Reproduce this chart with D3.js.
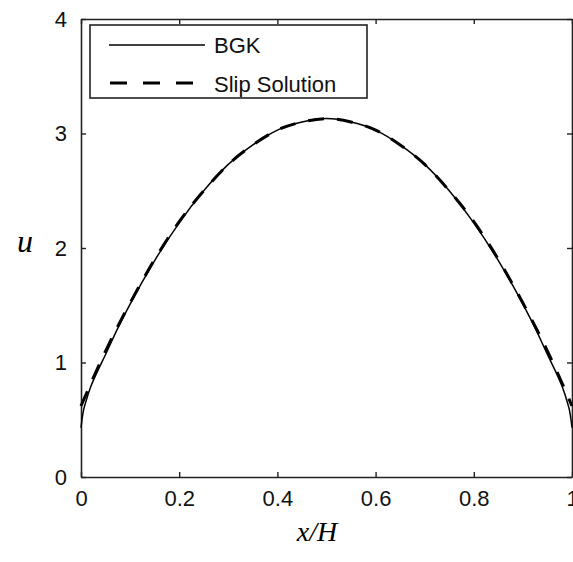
<!DOCTYPE html>
<html>
<head>
<meta charset="utf-8">
<script src="https://cdn.jsdelivr.net/npm/d3@7"></script>
<style>
  body { margin: 0; background: #fff; }
  svg { display: block; }
  .tick text { font-family: "Liberation Sans", Arial, sans-serif; font-size: 22px; fill: #111; }
</style>
</head>
<body>
<svg id="chart" width="573" height="562"></svg>
<script>
// data
var bgkX = [0, 0.002, 0.005, 0.01, 0.02, 0.03, 0.05, 0.075, 0.1, 0.15, 0.2, 0.25, 0.3, 0.35, 0.4, 0.45, 0.5,
            0.55, 0.6, 0.65, 0.7, 0.75, 0.8, 0.85, 0.9, 0.925, 0.95, 0.97, 0.98, 0.99, 0.995, 0.998, 1];
var bgkU = [0.43, 0.50, 0.58, 0.66, 0.79, 0.89, 1.07, 1.30, 1.51, 1.89, 2.22, 2.50, 2.73, 2.90, 3.03, 3.10, 3.13,
            3.10, 3.03, 2.90, 2.73, 2.50, 2.22, 1.89, 1.51, 1.30, 1.07, 0.89, 0.79, 0.66, 0.58, 0.50, 0.43];
var slipX = [0, 0.05, 0.1, 0.15, 0.2, 0.25, 0.3, 0.35, 0.4, 0.45, 0.5, 0.55, 0.6, 0.65, 0.7, 0.75, 0.8, 0.85, 0.9, 0.95, 1];
var slipU = [0.62, 1.10, 1.52, 1.90, 2.23, 2.50, 2.73, 2.90, 3.03, 3.10, 3.13, 3.10, 3.03, 2.90, 2.73, 2.50, 2.23, 1.90, 1.52, 1.10, 0.62];
var xTicks = [0, 0.2, 0.4, 0.6, 0.8, 1];
var yTicks = [0, 1, 2, 3, 4];
var seriesNames = ["BGK", "Slip Solution"];

var svg = d3.select("#chart");
const padding = { top: 19, left: 81, width: 491, height: 458 };

var x = d3.scaleLinear().domain([0, 1]).range([padding.left, padding.left + padding.width]);
var y = d3.scaleLinear().domain([0, 4]).range([padding.top + padding.height, padding.top]);

var fmt = d => d === 0 || d === 1 ? String(d) : d3.format(".1f")(d);

// axes, ticks pointing inward on all four sides
svg.append("g")
	.attr("transform", `translate(0,${padding.top + padding.height})`)
	.call(d3.axisBottom(x).tickValues(xTicks).tickFormat(fmt).tickSizeInner(-5).tickSizeOuter(0).tickPadding(13));
svg.append("g")
	.attr("transform", `translate(0,${padding.top})`)
	.call(d3.axisTop(x).tickValues(xTicks).tickFormat("").tickSizeInner(-5).tickSizeOuter(0));
svg.append("g")
	.attr("transform", `translate(${padding.left},0)`)
	.call(d3.axisLeft(y).tickValues(yTicks).tickFormat(d3.format("d")).tickSizeInner(-5).tickSizeOuter(0).tickPadding(14));
svg.append("g")
	.attr("transform", `translate(${padding.left + padding.width},0)`)
	.call(d3.axisRight(y).tickValues(yTicks).tickFormat("").tickSizeInner(-5).tickSizeOuter(0));

svg.selectAll(".domain").attr("stroke", "#222").attr("stroke-width", 1.6);
svg.selectAll(".tick line").attr("stroke", "#222").attr("stroke-width", 1.4);

// curves
var line = d3.line().x(d => x(d[0])).y(d => y(d[1])).curve(d3.curveMonotoneX);

svg.append("path")
	.datum(bgkX.map((v, i) => [v, bgkU[i]]))
	.attr("d", line)
	.attr("fill", "none")
	.attr("stroke", "#000")
	.attr("stroke-width", 1.5);

svg.append("path")
	.datum(slipX.map((v, i) => [v, slipU[i]]))
	.attr("d", line)
	.attr("fill", "none")
	.attr("stroke", "#000")
	.attr("stroke-width", 3)
	.attr("stroke-dasharray", "16,13");

// legend
var lg = svg.append("g");
lg.append("rect")
	.attr("x", 90).attr("y", 25).attr("width", 277).attr("height", 73)
	.attr("fill", "#fff").attr("stroke", "#222").attr("stroke-width", 1.6);
lg.append("line").attr("x1", 109).attr("x2", 205).attr("y1", 45).attr("y2", 45)
	.attr("stroke", "#000").attr("stroke-width", 1.5);
lg.append("line").attr("x1", 110).attr("x2", 196).attr("y1", 83).attr("y2", 83)
	.attr("stroke", "#000").attr("stroke-width", 3).attr("stroke-dasharray", "17,16");
lg.selectAll("text.lab")
	.data(seriesNames)
	.enter()
	.append("text")
	.attr("class", "lab")
	.attr("x", 214)
	.attr("y", (d, i) => 53 + i * 39)
	.attr("font-family", "Liberation Sans, Arial, sans-serif")
	.attr("font-size", 22)
	.attr("fill", "#111")
	.text(d => d);

// axis titles
svg.append("text")
	.attr("x", 25).attr("y", 252)
	.attr("text-anchor", "middle")
	.attr("font-family", "Liberation Serif, serif")
	.attr("font-style", "italic")
	.attr("font-size", 32)
	.text("u");

svg.append("text")
	.attr("x", 317).attr("y", 541)
	.attr("text-anchor", "middle")
	.attr("font-family", "Liberation Serif, serif")
	.attr("font-style", "italic")
	.attr("font-size", 28)
	.text("x/H");
</script>
</body>
</html>
